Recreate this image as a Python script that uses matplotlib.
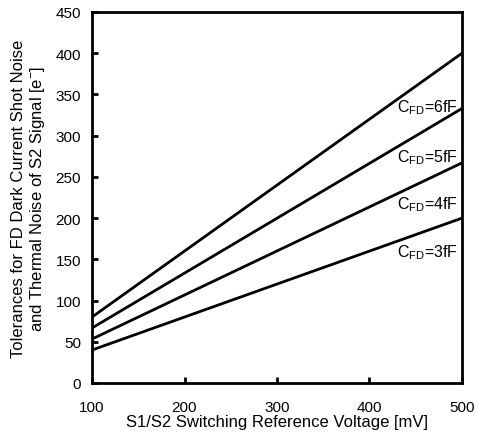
import numpy as np
import matplotlib
matplotlib.use("Agg")
from matplotlib import pyplot as plt

plt.rcParams['font.family'] = ['Liberation Sans', 'DejaVu Sans']

voltage = [100, 500]
cfd = [6, 5, 4, 3]
noise_6ff = [80, 400]
noise_5ff = [66.7, 333]
noise_4ff = [53.3, 267]
noise_3ff = [40, 200]
label_y = [335, 274, 217, 159]

fig = plt.figure(figsize=(4.78, 4.35), dpi=100)
ax = fig.add_axes([92/478, 1 - 384/435, 370/478, 371/435])

for ys in [noise_6ff, noise_5ff, noise_4ff, noise_3ff]:
    ax.plot(voltage, ys, color='black', lw=2.0, solid_capstyle='butt')

for c, ly in zip(cfd, label_y):
    ax.text(496, ly, r'C$_{\mathregular{FD}}$=%dfF' % c, ha='right', va='center', fontsize=11.5)

ax.set_xlim(100, 500)
ax.set_ylim(0, 450)
ax.set_xticks([100, 200, 300, 400, 500])
ax.set_yticks(np.arange(0, 451, 50))
ax.tick_params(direction='in', length=4, width=2, labelsize=11, pad=12)
ax.tick_params(axis='y', pad=8)
for s in ax.spines.values():
    s.set_linewidth(2.0)

ax.set_xlabel('S1/S2 Switching Reference Voltage [mV]', fontsize=12, labelpad=0)
ax.set_ylabel('Tolerances for FD Dark Current Shot Noise\nand Thermal Noise of S2 Signal [e$^{\mathregular{-}}$]',
              fontsize=12, labelpad=6, linespacing=1.15)

fig.savefig('out.png', dpi=100)
